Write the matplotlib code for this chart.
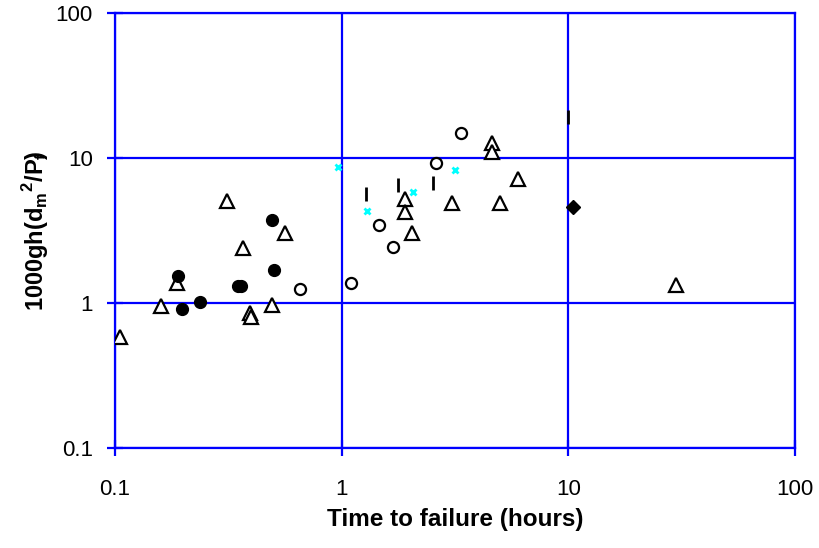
import matplotlib
matplotlib.use("Agg")
import matplotlib.pyplot as plt

plt.rcParams['font.family'] = ['Liberation Sans', 'DejaVu Sans']

# open triangles
tri_x = [0.105, 0.16, 0.188, 0.313, 0.368, 0.395, 0.40, 0.565, 0.495, 1.9, 1.9, 2.04, 3.07, 4.61, 4.61, 5.0, 6.0, 30]
tri_y = [0.58, 0.95, 1.37, 5.05, 2.39, 0.85, 0.80, 3.04, 0.97, 5.2, 4.25, 3.04, 4.9, 12.7, 11.0, 4.9, 7.17, 1.33]
# filled circles
fc_x = [0.19, 0.198, 0.238, 0.35, 0.36, 0.495, 0.505]
fc_y = [1.53, 0.91, 1.02, 1.31, 1.31, 3.73, 1.69]
# open circles
oc_x = [0.652, 1.096, 1.46, 1.68, 2.6, 3.36]
oc_y = [1.25, 1.37, 3.45, 2.43, 9.2, 14.9]
# vertical bars
bar_x = [1.28, 1.77, 2.53, 10.0]
bar_y = [5.65, 6.5, 6.72, 19.2]
# cyan crosses
cx_x = [0.96, 1.29, 2.06, 3.16]
cx_y = [8.6, 4.31, 5.83, 8.26]
# filled diamond
dm_x = [10.5]
dm_y = [4.6]

xticks = [0.1, 1, 10, 100]
xtick_labels = ['0.1', '1', '10', '100']
yticks = [0.1, 1, 10, 100]
ytick_labels = ['0.1', '1', '10', '100']

fig = plt.figure(figsize=(8.2, 5.48), dpi=100)
ax = fig.add_axes([115/820, 1-448/548, (795-115)/820, (448-13)/548])
ax.set_xscale('log')
ax.set_yscale('log')
ax.set_xlim(0.1, 100)
ax.set_ylim(0.1, 100)

ax.plot(tri_x, tri_y, linestyle='none', marker='^', markersize=9.5, markerfacecolor='white',
        markeredgecolor='black', markeredgewidth=1.6, zorder=3)
ax.plot(fc_x, fc_y, linestyle='none', marker='o', markersize=8.5, markerfacecolor='black',
        markeredgecolor='black', zorder=3)
ax.plot(oc_x, oc_y, linestyle='none', marker='o', markersize=8, markerfacecolor='white',
        markeredgecolor='black', markeredgewidth=1.6, zorder=3)
ax.plot(bar_x, bar_y, linestyle='none', marker='|', markersize=10, markeredgecolor='black',
        markeredgewidth=2, zorder=3)
ax.plot(cx_x, cx_y, linestyle='none', marker='x', markersize=5, markeredgecolor='#00FFFF',
        markeredgewidth=2, zorder=3)
ax.plot(dm_x, dm_y, linestyle='none', marker='D', markersize=7, markerfacecolor='black',
        markeredgecolor='black', zorder=3)

ax.set_xticks(xticks)
ax.set_xticklabels(xtick_labels)
ax.set_yticks(yticks)
ax.set_yticklabels(ytick_labels)
ax.minorticks_off()
ax.grid(True, which='major', color='#0000FF', linewidth=1.6)
ax.set_axisbelow(True)
for s in ax.spines.values():
    s.set_color('#0000FF')
    s.set_linewidth(1.6)
ax.tick_params(axis='both', which='major', direction='inout', length=12, width=1.6, color='#0000FF',
               labelsize=16)
ax.tick_params(axis='x', pad=16)
ax.tick_params(axis='y', pad=10)

ax.set_xlabel('Time to failure (hours)', fontsize=17.5, fontweight='bold', labelpad=6)
ax.set_ylabel(r'1000gh(d$_{\mathregular{m}}$$^{\mathregular{2}}$/P)$_{\!\!\!\mathregular{f}}$',
              fontsize=17, fontweight='bold', labelpad=3)

fig.savefig('out.png', dpi=100)
